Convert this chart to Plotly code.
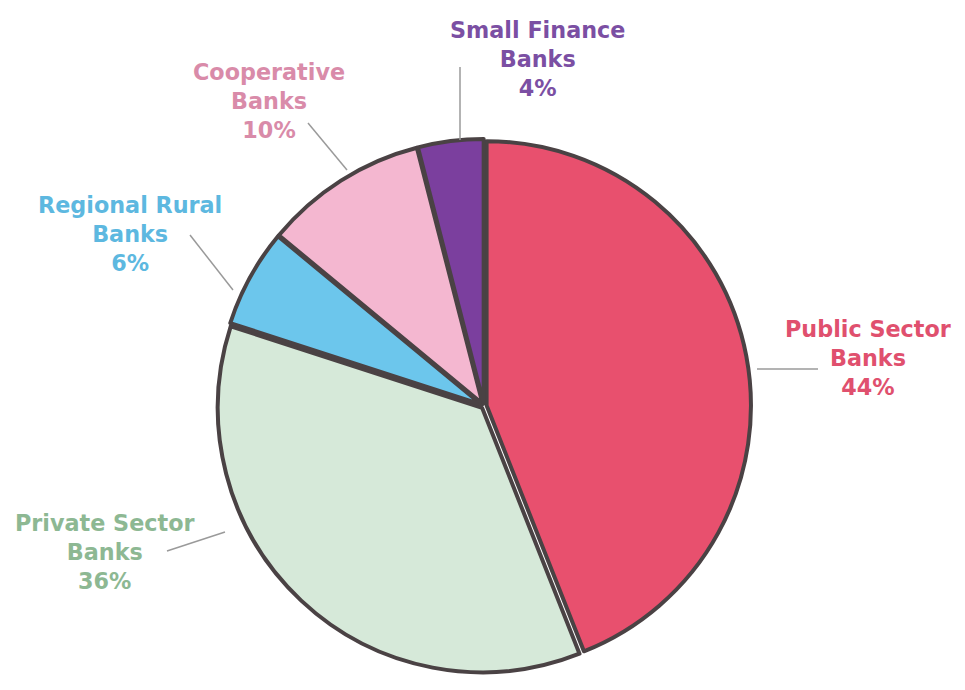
import plotly.graph_objects as go

categories = ["Public Sector Banks", "Private Sector Banks", "Regional Rural Banks",
              "Cooperative Banks", "Small Finance Banks"]
shares = [44, 36, 6, 10, 4]
label_lines = [["Public Sector", "Banks"], ["Private Sector", "Banks"],
               ["Regional Rural", "Banks"], ["Cooperative", "Banks"],
               ["Small Finance", "Banks"]]
slice_colors = ["#E8506E", "#D6E9D9", "#6CC6EC", "#F4B7D0", "#7B3F9E"]
text_colors = ["#E0506E", "#8DB893", "#5DB8E0", "#D98BA9", "#7B4FA3"]

# figure sized to fit inside the page's default 8px body margin
W, H = 949, 674
OFF = 8

# label placement and leader lines, in screen pixels of the reference
label_pos = [(868, 358), (104, 552), (130, 234), (269, 101), (537, 59)]
leader = [((757, 369), (818, 369)), ((225, 532), (167, 551)),
          ((233, 290), (190, 235)), ((347, 170), (308, 123)),
          ((460, 140), (460, 67))]

cx, cy, r = 484 - OFF, 406 - OFF, 267


def px(x):
    return (x - OFF) / W


def py(y):
    return 1 - (y - OFF) / H


fig = go.Figure(go.Pie(
    labels=categories, values=shares, sort=False, direction="clockwise",
    rotation=0, textinfo="none", hoverinfo="label+percent",
    marker=dict(colors=slice_colors, line=dict(color="#4a4244", width=4)),
    pull=[0.01, 0.01, 0.01, 0.01, 0.01],
    domain=dict(x=[(cx - r) / W, (cx + r) / W], y=[1 - (cy + r) / H, 1 - (cy - r) / H]),
    showlegend=False,
))

for lines, v, col, (lx, ly) in zip(label_lines, shares, text_colors, label_pos):
    fig.add_annotation(
        x=px(lx), y=py(ly), xref="paper", yref="paper",
        text="<br>".join(lines + [f"{v}%"]), showarrow=False,
        font=dict(family="DejaVu Sans", size=22.3, color=col, weight=700),
        align="center", xanchor="center", yanchor="middle",
    )

for (p0, p1) in leader:
    fig.add_shape(type="line", xref="paper", yref="paper",
                  x0=px(p0[0]), y0=py(p0[1]), x1=px(p1[0]), y1=py(p1[1]),
                  line=dict(color="#9a9a9a", width=1.5))

fig.update_layout(width=W, height=H, margin=dict(l=0, r=0, t=0, b=0),
                  paper_bgcolor="white", plot_bgcolor="white")
fig.write_html("out.html")
